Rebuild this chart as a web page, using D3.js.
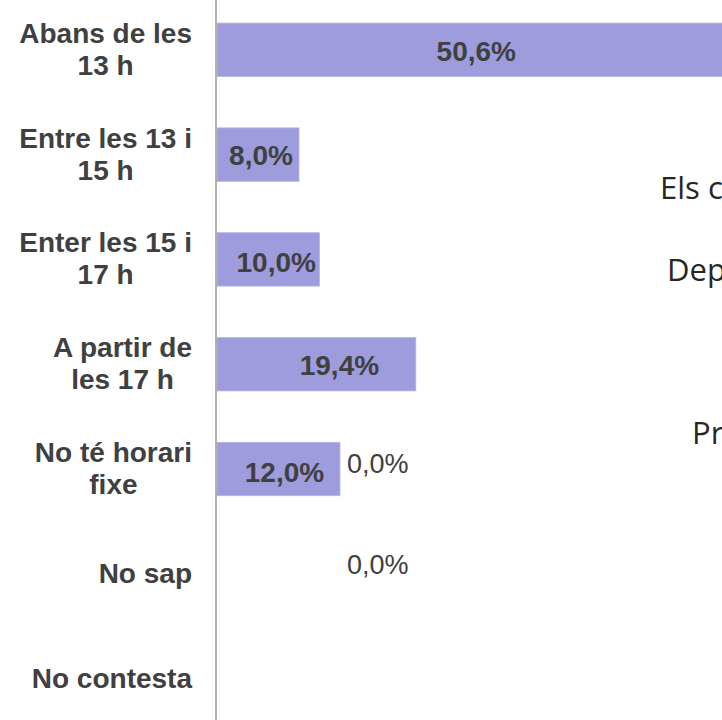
<!DOCTYPE html>
<html>
<head>
<meta charset="utf-8">
<script src="https://cdn.jsdelivr.net/npm/d3@7"></script>
<style>
  body { margin: 0; background: #fff; overflow: hidden; }
</style>
</head>
<body>
<div class="canva"></div>
<script>
// categories (line breaks as in the original chart)
const categories = [
  'Abans de les\n13 h',
  'Entre les 13 i\n15 h',
  'Enter les 15 i\n17 h',
  'A partir de\nles 17 h',
  'No té horari\nfixe',
  'No sap',
  'No contesta'
];
const values = [50.6, 8.0, 10.0, 19.4, 12.0, 0.0, 0.0];
const valueLabels = ['50,6%', '8,0%', '10,0%', '19,4%', '12,0%', '0,0%', '0,0%'];

// bits of slide text peeking out on the right
const backText = ['Els c', 'Dep', 'Pr'];

const W = 722, H = 720;
const axisX = 216;

const svg = d3.select('.canva').append('svg')
  .attr('width', W)
  .attr('height', H);

const y = d3.scaleBand()
  .domain(categories)
  .range([-2.6, 731])
  .paddingInner(0.49)
  .paddingOuter(0.245);

const x = d3.scaleLinear()
  .domain([0, 60])
  .range([axisX + 1, axisX + 1 + 615]);

// background slide text
const backPos = [[660, 199], [667, 281], [692, 444]];
svg.selectAll('text.back')
  .data(backText)
  .enter().append('text')
  .attr('class', 'back')
  .attr('x', (d, i) => backPos[i][0])
  .attr('y', (d, i) => backPos[i][1])
  .attr('font-family', '"Open Sans", sans-serif')
  .attr('font-size', 31)
  .attr('fill', '#262626')
  .text(d => d);

// bars
svg.selectAll('rect.bar')
  .data(values)
  .enter().append('rect')
  .attr('class', 'bar')
  .attr('x', x(0))
  .attr('y', (d, i) => y(categories[i]))
  .attr('width', d => x(d) - x(0))
  .attr('height', y.bandwidth())
  .attr('fill', '#9e9cdd')
  .attr('stroke', d => d > 0 ? '#b8b7e6' : 'none')
  .attr('stroke-width', 0.8);

// axis line
svg.append('line')
  .attr('x1', axisX).attr('x2', axisX)
  .attr('y1', 0).attr('y2', H)
  .attr('stroke', '#a0a0a0')
  .attr('stroke-width', 1.6);

// category labels: block right aligned, lines centred inside block
const labelRight = 192;
const lineH = 32;
categories.forEach((c, i) => {
  const lines = c.split('\n');
  const cy = y(c) + y.bandwidth() / 2;
  const g = svg.append('g');
  const texts = lines.map((l, j) => g.append('text')
    .attr('y', cy + 9 + (j - (lines.length - 1) / 2) * lineH)
    .attr('text-anchor', 'middle')
    .attr('font-family', '"Liberation Sans", Arial, sans-serif')
    .attr('font-weight', 'bold')
    .attr('font-size', 28)
    .attr('fill', '#404040')
    .text(l));
  const widths = texts.map(t => t.node().getComputedTextLength());
  const maxW = d3.max(widths);
  texts.forEach(t => t.attr('x', labelRight - maxW / 2));
});

// value labels (nudged like the original chart)
const labelShift = [0, 3, 8, 23, 6, 0, 0];
const labelDy = [11, 10, 13, 10.5, 12.5, -101, -104.6];
svg.selectAll('text.val')
  .data(values)
  .enter().append('text')
  .attr('class', 'val')
  .attr('x', (d, i) => d > 0 ? (x(0) + x(d)) / 2 + labelShift[i] : 347)
  .attr('y', (d, i) => y(categories[i]) + y.bandwidth() / 2 + labelDy[i])
  .attr('text-anchor', d => d > 0 ? 'middle' : 'start')
  .attr('font-family', '"Liberation Sans", Arial, sans-serif')
  .attr('font-weight', d => d > 0 ? 'bold' : 'normal')
  .attr('font-size', d => d > 0 ? 28 : 27)
  .attr('fill', '#404040')
  .text((d, i) => valueLabels[i]);
</script>
</body>
</html>
